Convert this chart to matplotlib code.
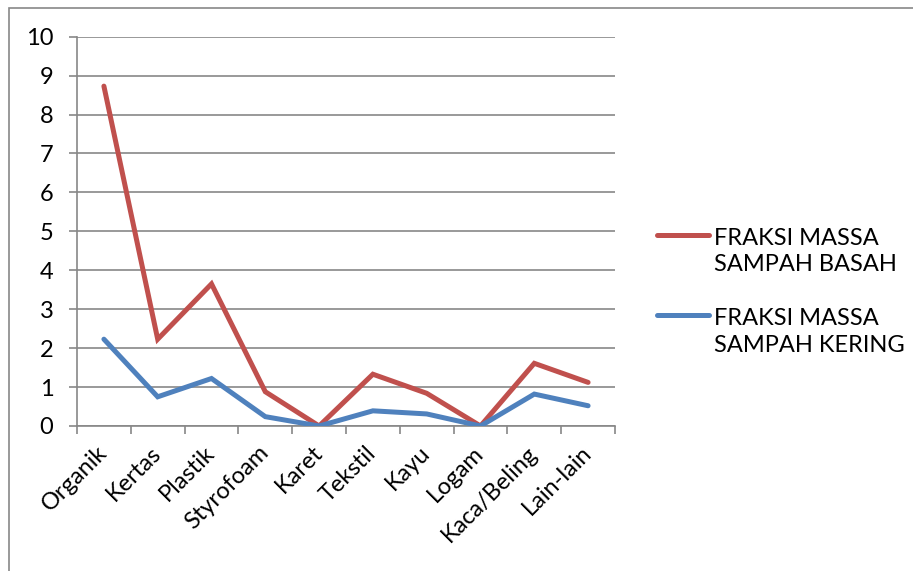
import matplotlib
matplotlib.use('Agg')
import matplotlib.pyplot as plt
import numpy as np
from matplotlib.lines import Line2D
from matplotlib.patches import Rectangle

plt.rcParams['font.family'] = ['Lato', 'DejaVu Sans']

categories = ['Organik', 'Kertas', 'Plastik', 'Styrofoam', 'Karet',
              'Tekstil', 'Kayu', 'Logam', 'Kaca/Beling', 'Lain-lain']
basah = [8.73, 2.23, 3.65, 0.88, 0.0, 1.33, 0.84, 0.0, 1.61, 1.12]
kering = [2.23, 0.75, 1.22, 0.24, 0.0, 0.39, 0.31, 0.0, 0.82, 0.52]
labels = ['FRAKSI MASSA\nSAMPAH BASAH', 'FRAKSI MASSA\nSAMPAH KERING']
colors = ['#C0504D', '#4F81BD']

W, H = 913, 571
grid_c = '#878787'
fs = 17
fig = plt.figure(figsize=(W / 100, H / 100), dpi=100)
ax = fig.add_axes([77 / W, 1 - 426 / H, (615 - 77) / W, (426 - 36.7) / H])

x = np.arange(len(categories))
ax.plot(x, basah, color=colors[0], lw=3.6, solid_capstyle='round', solid_joinstyle='miter', zorder=3)
ax.plot(x, kering, color=colors[1], lw=3.6, solid_capstyle='round', solid_joinstyle='miter', zorder=3)

ax.set_xlim(-0.5, len(categories) - 0.5)
ax.set_ylim(0, 10)
ax.set_yticks(range(0, 11))
ax.yaxis.grid(True, color=grid_c, lw=1.2)
ax.set_axisbelow(True)

# tick marks between categories, labels at categories
ax.set_xticks(np.arange(-0.5, len(categories), 1))
ax.set_xticklabels([])
ax.set_xticks(x, minor=True)
ax.set_xticklabels(categories, minor=True, rotation=45, ha='right', va='center',
                   rotation_mode='anchor', fontsize=fs)
ax.tick_params(axis='x', which='minor', length=0, pad=17)
ax.tick_params(axis='x', which='major', length=6, width=1.2, color=grid_c)
ax.tick_params(axis='y', length=6, width=1.2, color=grid_c, labelsize=fs, pad=11)

for s in ['top', 'right']:
    ax.spines[s].set_visible(False)
for s in ['left', 'bottom']:
    ax.spines[s].set_color(grid_c)
    ax.spines[s].set_linewidth(1.2)

# legend
for i, (lab, c) in enumerate(zip(labels, colors)):
    yl = 234.5 + i * 80.5
    fig.add_artist(Line2D([657 / W, 709 / W], [1 - yl / H, 1 - yl / H], color=c,
                          lw=3.6, solid_capstyle='round'))
    fig.text(714 / W, 1 - (yl + 17) / H, lab, fontsize=fs, va='center',
             ha='left', linespacing=1.35)

# outer border
fig.add_artist(Rectangle((8.5 / W, -0.2), 1.2, 1.2 - 7.5 / H,
                         transform=fig.transFigure, fill=False,
                         edgecolor=grid_c, lw=1.2))

fig.savefig('out.png', dpi=100)
